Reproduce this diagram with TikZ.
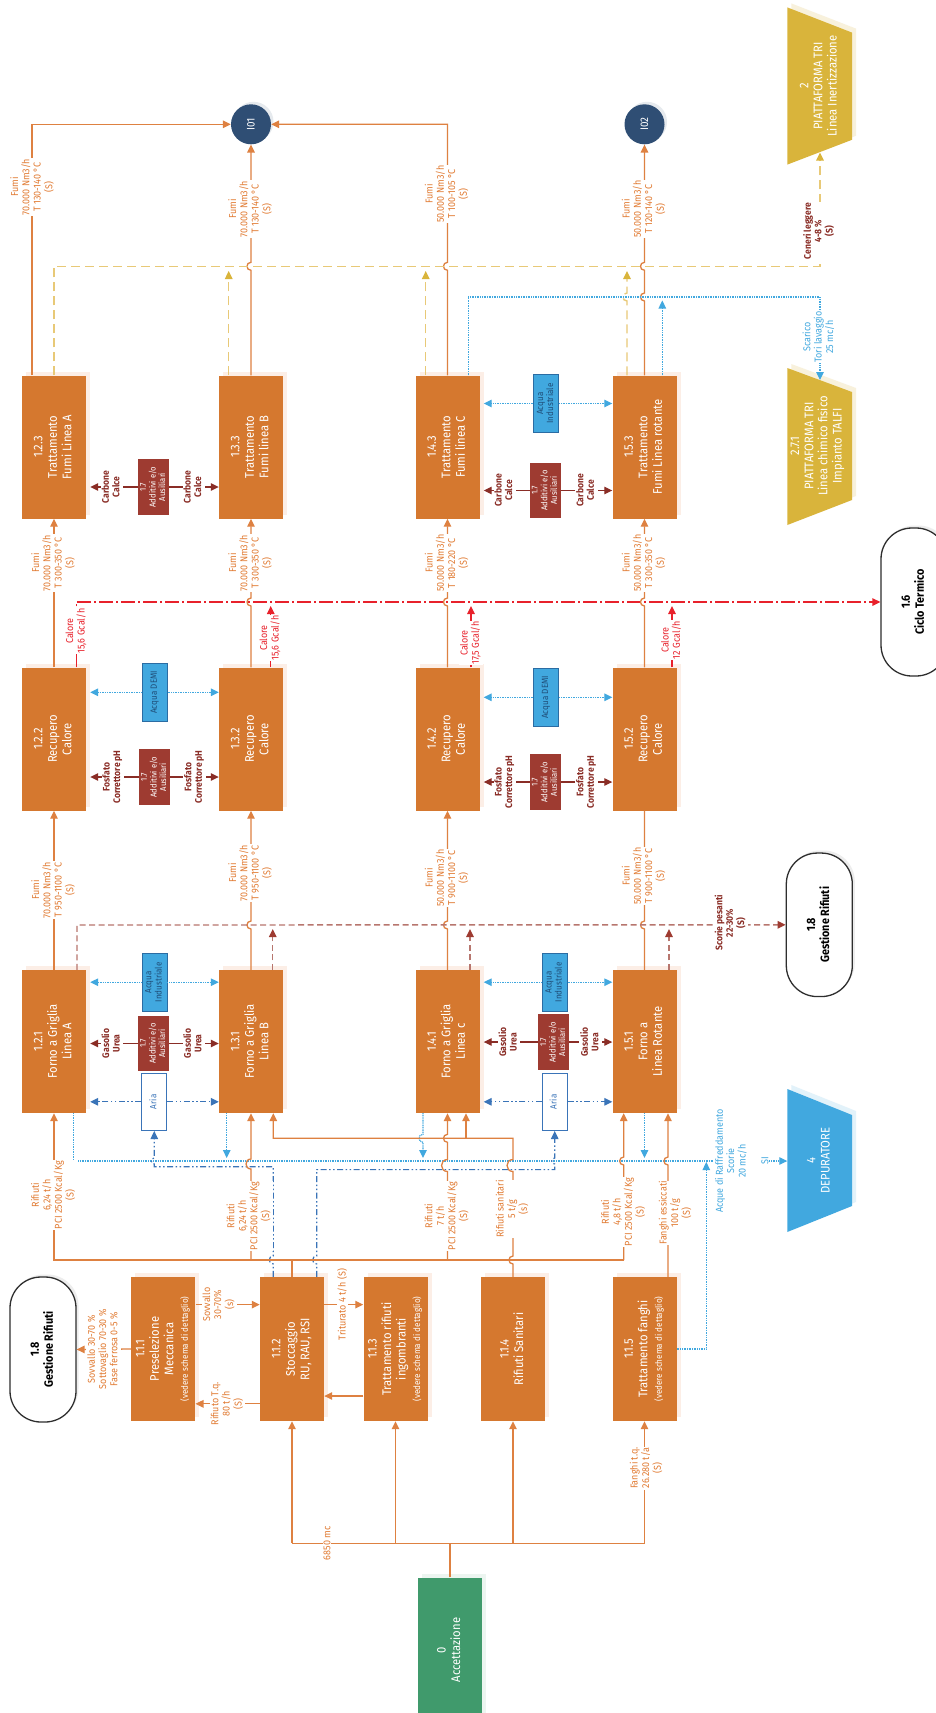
\documentclass[tikz,border=0pt]{standalone}
\usepackage{fontspec}
\setmainfont{Fira Sans}[FakeStretch=0.9]
\usepackage{graphicx}
\usetikzlibrary{arrows.meta,shadows}
\definecolor{obox}{HTML}{D5782F}
\definecolor{oline}{HTML}{DE8141}
\definecolor{otext}{HTML}{E17A31}
\definecolor{dred}{HTML}{9E3B31}
\definecolor{dredt}{HTML}{8A2D26}
\definecolor{brn}{HTML}{B7766E}
\definecolor{lblue}{HTML}{41A8DF}
\definecolor{bborder}{HTML}{2B6CA3}
\definecolor{btext}{HTML}{1F4E79}
\definecolor{aria}{HTML}{3A74B8}
\definecolor{cred}{HTML}{E8212B}
\definecolor{ylw}{HTML}{E8C977}
\definecolor{gold}{HTML}{D9B43B}
\definecolor{grn}{HTML}{409A6C}
\definecolor{navy}{HTML}{2F4E74}
\definecolor{shd}{HTML}{FCEEE6}
\definecolor{ovc}{HTML}{2E2E2E}
\newcommand{\fsz}[2]{\fontsize{#1}{#2}\selectfont}
\newcommand{\rtx}[1]{\rotatebox{90}{\begin{tabular}{@{}c@{}}#1\end{tabular}}}
\newcommand{\hopu}[3]{-- (#1,#2+#3) .. controls (#1-1.33*#3,#2+#3) and (#1-1.33*#3,#2-#3) .. (#1,#2-#3)}
\newcommand{\hopd}[3]{-- (#1,#2-#3) .. controls (#1-1.33*#3,#2-#3) and (#1-1.33*#3,#2+#3) .. (#1,#2+#3)}
\tikzset{
  bxbase/.style={text=white, minimum width=64pt, minimum height=143pt, inner sep=0pt, font=\fsz{12.5}{14.5}},
  mbox/.style={bxbase, fill=obox, general shadow={fill=shd, shadow xshift=4pt, shadow yshift=4pt}},
  addb/.style={fill=dred, text=white, minimum width=30.5pt, minimum height=55.5pt, inner sep=0pt, font=\fsz{8.5}{9.5}},
  acqb/.style={fill=lblue, draw=bborder, line width=0.9pt, text=btext, minimum width=25pt, minimum height=58pt, inner sep=0pt, font=\fsz{9}{10}},
  ariab/.style={fill=white, draw=aria, line width=0.9pt, text=aria, minimum width=25pt, minimum height=57.5pt, inner sep=0pt, font=\fsz{9}{10}},
  ovalb/.style={fill=white, draw=ovc, line width=1.3pt, rounded corners=31pt, minimum width=66pt, inner sep=0pt, font=\bfseries\fsz{12}{14}, general shadow={fill=black!7, shadow xshift=2.5pt, shadow yshift=2.5pt}},
  circb/.style={circle, fill=navy, text=white, minimum size=40pt, inner sep=0pt, font=\fsz{11}{12}, general shadow={fill=navy!12, shadow xshift=2.5pt, shadow yshift=2.5pt}},
  arw/.style={-{Triangle[length=8pt,width=7.5pt]}},
  yarw/.style={-{Triangle[length=8pt,width=7.5pt,color=gold]}},
  brarw/.style={-{Triangle[length=8pt,width=7.5pt,color=dred]}},
  oln/.style={draw=oline, line width=1.3pt},
  yln/.style={draw=ylw, line width=1.4pt, dash pattern=on 9pt off 5pt},
  brln/.style={draw=brn, line width=1.4pt, dash pattern=on 6pt off 3.5pt},
  rdln/.style={draw=cred, line width=1.3pt, dash pattern=on 14pt off 3pt on 2pt off 3pt},
  bdln/.style={draw=lblue, line width=1.2pt, dash pattern=on 1pt off 0.7pt},
  ddln/.style={draw=aria, line width=1.2pt, dash pattern=on 6pt off 2.5pt on 1.5pt off 2.5pt on 1.5pt off 2.5pt},
  drln/.style={draw=dredt, line width=1.2pt},
  flbl/.style={fill=white, inner sep=0.6pt, text=otext, font=\fsz{10}{11.2}},
  rlbl/.style={fill=white, inner sep=0.6pt, text=cred, font=\fsz{10}{11.2}},
  dlbl/.style={fill=white, inner sep=0.6pt, text=dredt, font=\bfseries\fsz{9.5}{10.5}},
  blbl/.style={fill=white, inner sep=0.6pt, text=lblue, font=\fsz{10}{11.2}},
}
\begin{document}
\begin{tikzpicture}[x=1pt,y=-1pt]
\useasboundingbox (0,0) rectangle (936,1713);
\fill[white] (0,0) rectangle (936,1713);

% ---------- main boxes
\node[mbox] (t123) at (54,447) {\rtx{1.2.3\\Trattamento\\Fumi Linea A}};
\node[mbox] (t133) at (251,447) {\rtx{1.3.3\\Trattamento\\Fumi linea B}};
\node[mbox] (t143) at (447.5,447) {\rtx{1.4.3\\Trattamento\\Fumi linea C}};
\node[mbox] (t153) at (644.5,447) {\rtx{1.5.3\\Trattamento\\Fumi Linea rotante}};
\node[mbox] (r122) at (54,739) {\rtx{1.2.2\\Recupero\\Calore}};
\node[mbox] (r132) at (251,739) {\rtx{1.3.2\\Recupero\\Calore}};
\node[mbox] (r142) at (447.5,739) {\rtx{1.4.2\\Recupero\\Calore}};
\node[mbox] (r152) at (644.5,739) {\rtx{1.5.2\\Recupero\\Calore}};
\node[mbox] (f121) at (54,1041.5) {\rtx{1.2.1\\Forno a Griglia\\Linea A}};
\node[mbox] (f131) at (251,1041.5) {\rtx{1.3.1\\Forno a Griglia\\Linea B}};
\node[mbox] (f141) at (447.5,1041.5) {\rtx{1.4.1\\Forno a Griglia\\Linea c}};
\node[mbox] (f151) at (644.5,1041.5) {\rtx{1.5.1\\Forno a\\Linea Rotante}};
\node[mbox,minimum height=144pt] (s111) at (163.3,1349) {\rtx{1.1.1\\Preselezione\\Meccanica\\{\fsz{9}{10}(vedere schema di dettaglio)}}};
\node[mbox,minimum height=144pt] (s112) at (292,1349) {\rtx{1.1.2\\Stoccaggio\\RU, RAU, RSI}};
\node[mbox,minimum height=144pt] (s113) at (395.5,1349) {\rtx{1.1.3\\Trattamento rifiuti\\ingombranti\\{\fsz{9}{10}(vedere schema di dettaglio)}}};
\node[mbox,minimum height=144pt] (s114) at (513,1349) {\rtx{1.1.4\\Rifiuti Sanitari}};
\node[mbox,minimum height=144pt] (s115) at (644.5,1349) {\rtx{1.1.5\\Trattamento fanghi\\{\fsz{9}{10}(vedere schema di dettaglio)}}};
\node[bxbase, fill=grn, minimum height=145pt, general shadow={fill=grn!10, shadow xshift=4pt, shadow yshift=4pt}] (acc) at (450,1650) {\rtx{0\\Accettazione}};

% ---------- small boxes
\node[addb] (a17t1) at (153.5,487) {\rtx{1.7\\Additivi e/o\\Ausiliari}};
\node[addb] (a17t2) at (545.3,490.5) {\rtx{1.7\\Additivi e/o\\Ausiliari}};
\node[acqb] (aqt2) at (546.2,403.5) {\rtx{Acqua\\Industriale}};
\node[acqb] (dm1) at (154.8,692.3) {\rtx{Acqua DEMI}};
\node[addb] (a17r1) at (154.6,777) {\rtx{1.7\\Additivi e/o\\Ausiliari}};
\node[acqb] (dm2) at (546.2,697.3) {\rtx{Acqua DEMI}};
\node[addb] (a17r2) at (545.3,782) {\rtx{1.7\\Additivi e/o\\Ausiliari}};
\node[acqb] (aq1) at (154.5,982.2) {\rtx{Acqua\\Industriale}};
\node[addb] (a17f1) at (153.6,1043.5) {\rtx{1.7\\Additivi e/o\\Ausiliari}};
\node[ariab] (ar1) at (154.3,1101.8) {\rtx{Aria}};
\node[acqb] (aq2) at (554.7,982.2) {\rtx{Acqua\\Industriale}};
\node[addb] (a17f2) at (553.7,1042) {\rtx{1.7\\Additivi e/o\\Ausiliari}};
\node[ariab] (ar2) at (554.7,1101.8) {\rtx{Aria}};

% ---------- circles
\node[circb] (i01) at (251,124.3) {\rotatebox{90}{I01}};
\node[circb] (i02) at (644.5,124.3) {\rotatebox{90}{I02}};

% ---------- trapezoids
\fill[gold!18] (791.3,3.4) -- (856,28.6) -- (856,135.8) -- (791.3,160.6) -- cycle;
\fill[gold] (787.3,7.4) -- (852,32.6) -- (852,139.8) -- (787.3,164.6) -- cycle;
\node[text=white, font=\fsz{12.5}{14.2}] (tp2) at (819.6,86) {\rtx{2\\PIATTAFORMA TRI\\Linea Inertizzazione}};
\fill[gold!18] (791.3,364) -- (856,388) -- (856,496) -- (791.3,521) -- cycle;
\fill[gold] (787.3,368) -- (852,392) -- (852,500) -- (787.3,525) -- cycle;
\node[text=white, font=\fsz{12.5}{14.2}] (tp271) at (817.5,446) {\rtx{2.7.1\\PIATTAFORMA TRI\\Linea chimico fisico\\Impianto TALFI}};
\fill[lblue!15] (791.3,1085) -- (856,1111) -- (856,1202) -- (791.3,1228) -- cycle;
\fill[lblue] (787.3,1089) -- (852,1115) -- (852,1206) -- (787.3,1232) -- cycle;
\node[text=white, font=\fsz{12.5}{14.2}] (dep) at (819.6,1160.5) {\rtx{4\\DEPURATORE}};
\coordinate (cenEnd) at (820,152.5);
\coordinate (scaEnd) at (820,380);
\coordinate (depin) at (787.3,1161);

% ---------- ovals
\node[ovalb, minimum height=143.5pt] (g18a) at (819.3,924.8) {\rtx{1.8\\Gestione Rifiuti}};
\node[ovalb, minimum height=148pt] (ct) at (914,602) {\rtx{1.6\\Ciclo Termico}};
\node[ovalb, minimum height=145pt] (g18b) at (43,1349.5) {\rtx{1.8\\Gestione Rifiuti}};

% ---------- top fumi
\draw[oln,arw] (t123.north -| 32,0) -- (32,124.3) -- (i01.west);
\draw[oln,arw] (t133.north) \hopu{251}{266.3}{4} -- (i01.south);
\draw[oln,arw] (t143.north) \hopu{447.5}{266.3}{4} -- (447.5,124.3) -- (i01.east);
\draw[oln,arw] (t153.north) \hopu{644.5}{297}{4} \hopu{644.5}{266.3}{4} -- (i02.south);
% yellow
\draw[yln,yarw] (t123.north) -- (54,266.3) -- (820,266.3) -- (cenEnd);
\draw[yln,yarw] (t133.north -| 228.7,0) -- (228.7,271);
\draw[yln,yarw] (t143.north -| 425.7,0) -- (425.7,271);
\draw[yln,yarw] (t153.north -| 627,0) \hopu{627}{297}{4} -- (627,271);
% blue top
\draw[bdln,arw] (t143.north -| 468.3,0) -- (468.3,297) -- (820,297) -- (scaEnd);
\draw[bdln,arw] (t153.north -| 662.3,0) -- (662.3,300.5);
% red
\draw[rdln,arw] (r122.north -| 76.7,0) -- (76.7,602) -- (ct.west);
\draw[rdln,arw] (r132.north -| 270.7,0) -- (270.7,606);
\draw[rdln,arw] (r142.north -| 471,0) -- (471,606);
\draw[rdln,arw] (r152.north -| 672,0) -- (672,606);
% fumi mid
\draw[oln,arw] (r122.north) -- (t123.south);
\draw[oln,arw] (r132.north) \hopu{251}{602}{4} -- (t133.south);
\draw[oln,arw] (r142.north) \hopu{447.5}{602}{4} -- (t143.south);
\draw[oln,arw] (r152.north) \hopu{644.5}{602}{4} -- (t153.south);
% fumi low
\draw[oln,arw] (f121.north) -- (r122.south);
\draw[oln,arw] (f131.north) \hopu{251}{925}{4} -- (r132.south);
\draw[oln,arw] (f141.north) \hopu{447.5}{925}{4} -- (r142.south);
\draw[oln] (f151.north) \hopu{644.5}{925}{4} -- (r152.south);
% brown scorie
\draw[brln,brarw] (f121.north -| 77,0) -- (77,925) -- (g18a.west);
\draw[brln,brarw] (f131.north -| 272.7,0) -- (272.7,929);
\draw[brln,brarw] (f141.north -| 470,0) -- (470,929);
\draw[brln,brarw] (f151.north -| 669,0) -- (669,929);

% ---------- row arrows
\draw[drln,arw,shorten >=4pt] (a17t1.west) -- node[dlbl] (lc1) {\rtx{Carbone\\Calce}} (a17t1.west -| t123.east);
\draw[drln,arw] (a17t1.east) -- node[dlbl] (lc2) {\rtx{Carbone\\Calce}} (a17t1.east -| t133.west);
\draw[drln,arw,shorten >=4pt] (a17t2.west) -- node[dlbl] (lc3) {\rtx{Carbone\\Calce}} (a17t2.west -| t143.east);
\draw[drln,arw] (a17t2.east) -- node[dlbl] (lc4) {\rtx{Carbone\\Calce}} (a17t2.east -| t153.west);
\draw[bdln,arw,shorten >=4pt] (aqt2.west) -- (aqt2.west -| t143.east);
\draw[bdln,arw] (aqt2.east) -- (aqt2.east -| t153.west);

\draw[bdln,arw,shorten >=4pt] (dm1.west) -- (dm1.west -| r122.east);
\draw[bdln,arw] (dm1.east) -- (dm1.east -| r132.west);
\draw[drln,arw,shorten >=4pt] (a17r1.west) -- node[dlbl] (lp1) {\rtx{Fosfato\\Correttore pH}} (a17r1.west -| r122.east);
\draw[drln,arw] (a17r1.east) -- node[dlbl] (lp2) {\rtx{Fosfato\\Correttore pH}} (a17r1.east -| r132.west);
\draw[bdln,arw,shorten >=4pt] (dm2.west) -- (dm2.west -| r142.east);
\draw[bdln,arw] (dm2.east) -- (dm2.east -| r152.west);
\draw[drln,arw,shorten >=4pt] (a17r2.west) -- node[dlbl] (lp3) {\rtx{Fosfato\\Correttore pH}} (a17r2.west -| r142.east);
\draw[drln,arw] (a17r2.east) -- node[dlbl] (lp4) {\rtx{Fosfato\\Correttore pH}} (a17r2.east -| r152.west);

\draw[bdln,arw,shorten >=4pt] (aq1.west) -- (aq1.west -| f121.east);
\draw[bdln,arw] (aq1.east) -- (aq1.east -| f131.west);
\draw[drln,arw,shorten >=4pt] (a17f1.west) -- node[dlbl] (lg1) {\rtx{Gasolio\\Urea}} (a17f1.west -| f121.east);
\draw[drln,arw] (a17f1.east) -- node[dlbl] (lg2) {\rtx{Gasolio\\Urea}} (a17f1.east -| f131.west);
\draw[ddln,arw,shorten >=4pt] (ar1.west) -- (ar1.west -| f121.east);
\draw[ddln,arw] (ar1.east) -- (ar1.east -| f131.west);
\draw[bdln,arw,shorten >=4pt] (aq2.west) -- (aq2.west -| f141.east);
\draw[bdln,arw] (aq2.east) -- (aq2.east -| f151.west);
\draw[drln,arw,shorten >=4pt] (a17f2.west) -- node[dlbl] (lg3) {\rtx{Gasolio\\Urea}} (a17f2.west -| f141.east);
\draw[drln,arw] (a17f2.east) -- node[dlbl] (lg4) {\rtx{Gasolio\\Urea}} (a17f2.east -| f151.west);
\draw[ddln,arw,shorten >=4pt] (ar2.west) -- (ar2.west -| f141.east);
\draw[ddln,arw] (ar2.east) -- (ar2.east -| f151.west);

% ---------- lower dotted (acque)
\draw[bdln] (f121.south -| 73.3,0) -- (73.3,1161) -- (713,1161);
\draw[bdln,arw] (f131.south -| 226.7,0) -- (226.7,1158);
\draw[bdln,arw] (f141.south -| 423,0) \hopd{423}{1138.3}{4} -- (423,1158);
\draw[bdln,arw] (f151.south) -- (644.5,1158);
\draw[bdln,arw] (s115.east) -- (706.3,1349) -- (706.3,1162);
\node[blbl] (si) at (765,1161) {\rotatebox{90}{SI}};
\draw[bdln,arw] (si.east) -- (depin);

% ---------- dash-dot aria supply
\draw[ddln,arw] (s112.north -| 273.3,0) \hopu{273.3}{1260}{4} -- (273.3,1166.7) -- (ar1.south |- 0,1166.7) \hopu{154.3}{1161}{3} -- (ar1.south);
\draw[ddln,arw] (s112.north -| 316.7,0) \hopu{316.7}{1260}{4} -- (316.7,1169.6) -- (ar2.south |- 0,1169.6) \hopu{554.7}{1161}{3} -- (ar2.south);

% ---------- rifiuti collector
\coordinate (colL) at (54,1260);
\coordinate (colR) at (623.7,1260);
\draw[oln] (s112.north) -- (s112.north |- colL);
\draw[oln,arw] (colR) -- (colL) -- (f121.south);
\draw[oln,arw] (f131.south |- colL) \hopu{251}{1164}{5} -- (f131.south);
\draw[oln,arw] (f141.south |- colL) \hopu{447.5}{1165.5}{6} \hopu{447.5}{1138.3}{4} -- (f141.south);
\draw[oln,arw] (colR) \hopu{623.7}{1161}{4} -- (f151.south -| colR);
\draw[oln,arw] (s114.north) \hopu{513}{1260}{4} \hopu{513}{1165.5}{6} -- (513,1138.3) -- (273.3,1138.3) -- (f131.south -| 273.3,0);
\draw[oln,arw] (466,1138.3) -- (f141.south -| 466,0);
\draw[oln,arw] (s115.north -| 668,0) \hopu{668}{1161}{4} -- (f151.south -| 668,0);

% ---------- accettazione
\coordinate (accL) at (292,1543.2);
\coordinate (accR) at (644.5,1543.2);
\draw[oln] (acc.north) -- (acc.north |- accL);
\draw[oln] (accL) -- (accR);
\draw[oln,arw] (accL) -- (s112.south);
\draw[oln,arw] (s113.south |- accL) -- (s113.south);
\draw[oln,arw] (s114.south |- accL) -- (s114.south);
\draw[oln,arw] (accR) -- (s115.south);

% ---------- 1.1.x arrows
\draw[oln,arw] (s111.east |- 0,1304.6) -- node[flbl,pos=0.37] (lsv) {\rtx{Sovvallo\\30-70\%\\(s)}} (s112.west |- 0,1304.6);
\draw[oln,arw] (s112.west |- 0,1403.8) -- node[flbl,pos=0.5] (lrt) {\rtx{Rifiuto T.q.\\80 t/h\\(S)}} (s111.east |- 0,1403.8);
\draw[oln,arw] (s112.east |- 0,1304.6) -- node[flbl,pos=0.46] (ltr) {\rotatebox{90}{Triturato 4 t/h (S)}} (s113.west |- 0,1304.6);
\draw[oln,arw] (s113.west |- 0,1396) -- (s112.east |- 0,1396);
\draw[oln,arw] (s111.west) -- node[flbl] (lsg) {\rtx{Sovvallo 30-70 \%\\Sottovaglio 70-30 \%\\Fase ferrosa 0-5 \%}} (g18b.east);

% ---------- labels
\node[flbl] (lf1) at (33,187) {\rtx{Fumi\\70.000 Nm3/h\\T 130-140 °C\\(S)}};
\node[flbl] (lf2) at (251,209) {\rtx{Fumi\\70.000 Nm3/h\\T 130-140 °C\\(S)}};
\node[flbl] (lf3) at (447.5,194) {\rtx{Fumi\\50.000 Nm3/h\\T 100-105 °C\\(S)}};
\node[flbl] (lf4) at (644.5,209) {\rtx{Fumi\\50.000 Nm3/h\\T 120-140 °C\\(S)}};
\node[flbl] (lf5) at (54,563) {\rtx{Fumi\\70.000 Nm3/h\\T 300-350 °C\\(S)}};
\node[flbl] (lf6) at (251,563) {\rtx{Fumi\\70.000 Nm3/h\\T 300-350 °C\\(S)}};
\node[flbl] (lf7) at (447.5,563) {\rtx{Fumi\\50.000 Nm3/h\\T 180-220 °C\\(S)}};
\node[flbl] (lf8) at (644.5,563) {\rtx{Fumi\\50.000 Nm3/h\\T 300-350 °C\\(S)}};
\node[flbl] (lf9) at (54,890) {\rtx{Fumi\\70.000 Nm3/h\\T 950-1100 °C\\(S)}};
\node[flbl] (lf10) at (251,873) {\rtx{Fumi\\70.000 Nm3/h\\T 950-1100 °C\\(S)}};
\node[flbl] (lf11) at (447.5,878) {\rtx{Fumi\\50.000 Nm3/h\\T 900-1100 °C\\(S)}};
\node[flbl] (lf12) at (644.5,876) {\rtx{Fumi\\50.000 Nm3/h\\T 900-1100 °C\\(S)}};
\node[rlbl] (lk1) at (76.7,631) {\rtx{Calore\\15,6 Gcal/h}};
\node[rlbl] (lk2) at (270.7,638) {\rtx{Calore\\15,6 Gcal/h}};
\node[rlbl] (lk3) at (471,643) {\rtx{Calore\\17,5 Gcal/h}};
\node[rlbl] (lk4) at (672,640) {\rtx{Calore\\12 Gcal/h}};
\node[dlbl] (lcen) at (819.5,231) {\rtx{Ceneri leggere\\4-8 \%\\(S)}};
\node[blbl] (lsca) at (819.5,337) {\rtx{Scarico\\Tori lavaggio\\25 mc/h}};
\node[dlbl] (lsco) at (731,923) {\rtx{Scorie pesanti\\22-30\%\\(S)}};
\node[flbl] (lw1) at (54,1195) {\rtx{Rifiuti\\6,24 t/h\\PCI 2500 Kcal/Kg\\(S)}};
\node[flbl] (lw2) at (249.5,1216) {\rtx{Rifiuti\\6,24 t/h\\PCI 2500 Kcal/Kg\\(S)}};
\node[flbl] (lw3) at (447.5,1216) {\rtx{Rifiuti\\7 t/h\\PCI 2500 Kcal/Kg\\(S)}};
\node[flbl] (lw4) at (624,1212) {\rtx{Rifiuti\\4,8 t/h\\PCI 2500 Kcal/Kg\\(S)}};
\node[flbl] (lws) at (513,1209) {\rtx{Rifiuti sanitari\\5 t/g\\(s)}};
\node[flbl] (lfe) at (676,1213) {\rtx{Fanghi essiccati\\100 t/g\\(S)}};
\node[blbl] (lacq) at (732,1161) {\rtx{Acque di Raffreddamento\\Scorie\\20 mc/h}};
\node[flbl] (lftq) at (647,1468) {\rtx{Fanghi t.q.\\26.280 t/a\\(S)}};
\node[flbl] (lmc) at (327,1543.2) {\rotatebox{90}{6850 mc}};
\end{tikzpicture}
\end{document}
